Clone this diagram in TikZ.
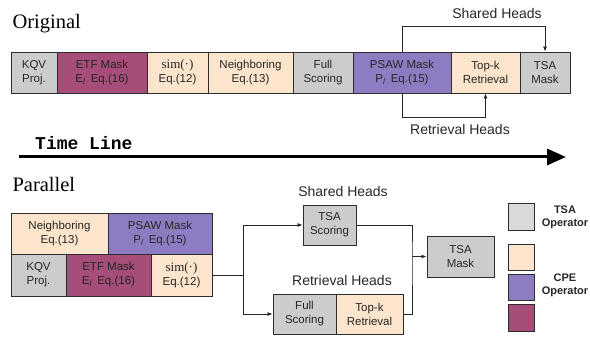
\documentclass[tikz,border=0pt]{standalone}
\usepackage{fontspec}
\setsansfont{Liberation Sans}
\setmainfont{Liberation Serif}
\newfontfamily\monofnt{Liberation Mono}
\usetikzlibrary{arrows.meta}
\definecolor{cgray}{RGB}{204,204,204}
\definecolor{clgray}{RGB}{217,217,217}
\definecolor{cpeach}{RGB}{252,229,205}
\definecolor{cpurple}{RGB}{142,124,195}
\definecolor{cplum}{RGB}{166,77,121}
\definecolor{cborder}{RGB}{45,45,45}
\tikzset{
  blk/.style={draw=cborder, line width=0.9pt, inner sep=0pt, align=center,
    font=\sffamily\fontsize{11.5}{14}\selectfont, text=black!85},
  conn/.style={draw=black!85, line width=0.8pt, -{Latex[length=5pt,width=4pt]}},
  plain/.style={draw=black!85, line width=0.8pt},
  lbl/.style={font=\sffamily\fontsize{14}{16}\selectfont, text=black!85},
  title/.style={font=\rmfamily\fontsize{20.5}{22}\selectfont, anchor=base west},
  legtxt/.style={font=\sffamily\bfseries\fontsize{11}{13}\selectfont, align=center, text=black!85},
}
\newcommand{\simtxt}{{\rmfamily\fontsize{13}{14}\selectfont sim(·)}}
\newcommand{\subl}{\textsubscript{\textit{l}}}
\begin{document}
\begin{tikzpicture}[x=1pt,y=-1pt]
\useasboundingbox (0,0) rectangle (590,339);

% ---------- Original ----------
\node[title] (torig) at (9,29) {Original};
\node[blk, fill=cgray,   minimum width=46, minimum height=41] (ok) at (34,72.5) {KQV\\Proj.};
\node[blk, fill=cplum,   minimum width=90, minimum height=41] (oe) at (102,72.5) {ETF Mask\\E\subl\hspace{0.45em}Eq.(16)};
\node[blk, fill=cpeach,  minimum width=61, minimum height=41] (os) at (177.5,72.5) {\simtxt\\Eq.(12)};
\node[blk, fill=cpeach,  minimum width=85, minimum height=41] (on) at (250.5,72.5) {Neighboring\\Eq.(13)};
\node[blk, fill=cgray,   minimum width=60, minimum height=41] (of) at (323,72.5) {Full\\Scoring};
\node[blk, fill=cpurple, minimum width=98, minimum height=41] (op) at (402,72.5) {PSAW Mask\\P\subl\hspace{0.45em}Eq.(15)};
\node[blk, fill=cpeach,  minimum width=69, minimum height=41] (ot) at (485.5,72.5) {Top-k\\Retrieval};
\node[blk, fill=cgray,   minimum width=50, minimum height=41] (om) at (545,72.5) {TSA\\Mask};

\draw[conn] (op.north) -- ++(0,-25) -| (om.north);
\node[lbl] (lsh1) at (497,13) {Shared Heads};
\draw[conn] (op.south) -- ++(0,24) -| (ot.south);
\node[lbl] (lrh1) at (460,129) {Retrieval Heads};

% ---------- Time line ----------
\node[font=\monofnt\bfseries\fontsize{18}{20}\selectfont, anchor=west, inner sep=0pt] (tl) at (35,143) {Time Line};
\coordinate (ts) at (19,157);
\coordinate (te) at (566,157);
\draw[line width=3pt, -{Triangle[length=19pt,width=16pt]}] (ts) -- (te);

% ---------- Parallel ----------
\node[title] (tpar) at (9,192) {Parallel};
\node[blk, fill=cpeach,  minimum width=97,  minimum height=41] (pn) at (59.5,233.5) {Neighboring\\Eq.(13)};
\node[blk, fill=cpurple, minimum width=104, minimum height=41] (pp) at (160,233.5) {PSAW Mask\\P\subl\hspace{0.45em}Eq.(15)};
\node[blk, fill=cgray,   minimum width=55, minimum height=42] (pk) at (38.5,275) {KQV\\Proj.};
\node[blk, fill=cplum,   minimum width=85, minimum height=42] (pe) at (108.5,275) {ETF Mask\\E\subl\hspace{0.45em}Eq.(16)};
\node[blk, fill=cpeach,  minimum width=61, minimum height=42] (ps) at (181.5,275) {\simtxt\\Eq.(12)};

\node[blk, fill=cgray,  minimum width=53, minimum height=40] (pts) at (329.5,225) {TSA\\Scoring};
\node[blk, fill=cgray,  minimum width=63, minimum height=40] (pfs) at (304.5,314) {Full\\Scoring};
\node[blk, fill=cpeach, minimum width=67, minimum height=40] (ptk) at (369.5,314) {Top-k\\Retrieval};
\node[blk, fill=cgray,  minimum width=67, minimum height=41] (ptm) at (460.5,256.5) {TSA\\Mask};

\node[lbl] (lsh2) at (343,191) {Shared Heads};
\node[lbl] (lrh2) at (342,280) {Retrieval Heads};

\coordinate (split) at (243,275);
\draw[plain] (ps.east) -- (split);
\draw[conn] (split) |- (pts.west);
\draw[conn] (split) |- (pfs.west);
\coordinate (merge) at (412,256.5);
\draw[plain] (pts.east) -| (merge) |- (ptk.east);
\draw[conn] (merge) -- (ptm.west);

% ---------- Legend ----------
\node[blk, fill=clgray,  minimum width=26, minimum height=27] (lg1) at (521,216.5) {};
\node[blk, fill=cpeach,  minimum width=26, minimum height=26] (lg2) at (521,257) {};
\node[blk, fill=cpurple, minimum width=26, minimum height=26] (lg3) at (521,287) {};
\node[blk, fill=cplum,   minimum width=26, minimum height=27] (lg4) at (521,317.5) {};
\node[legtxt] (lt1) at (565,217) {TSA\\Operator};
\node[legtxt] (lt2) at (565,285) {CPE\\Operator};
\end{tikzpicture}
\end{document}
